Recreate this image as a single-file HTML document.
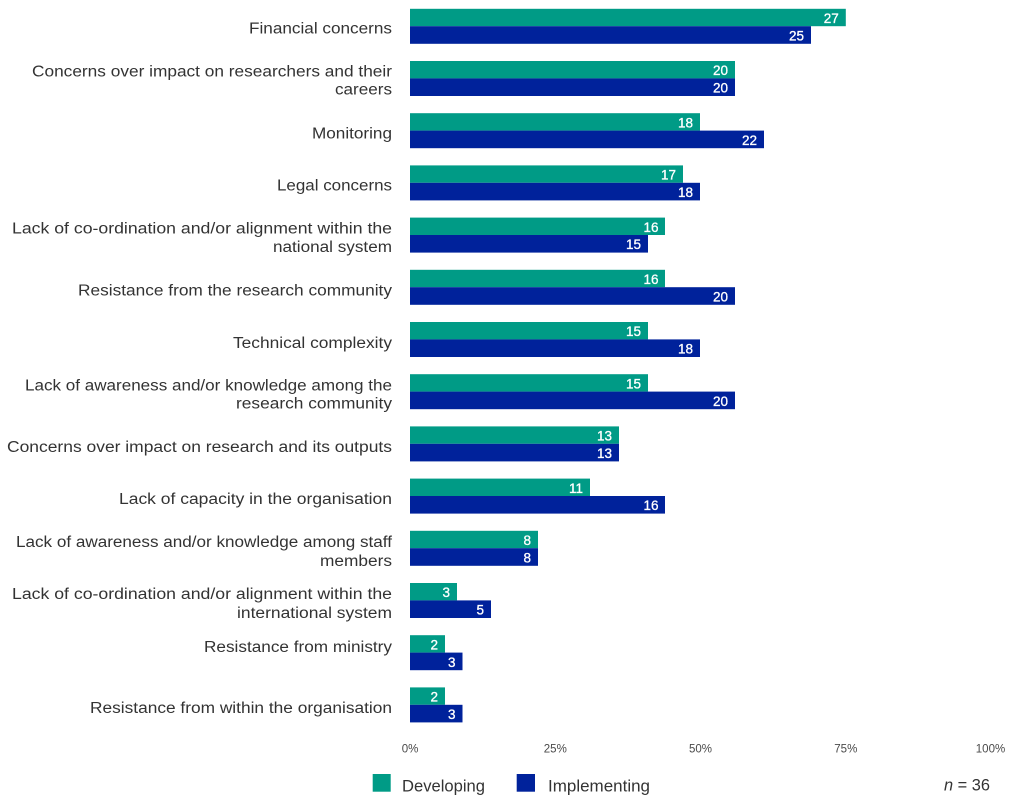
<!DOCTYPE html>
<html>
<head>
<meta charset="utf-8">
<style>
  html, body { margin: 0; padding: 0; background: #ffffff; }
  body { width: 1024px; height: 809px; overflow: hidden; }
  svg { display: block; }
  .cat { font-family: "Liberation Sans", sans-serif; font-size: 15.5px; fill: #333333; }
  .val { font-family: "Liberation Sans", sans-serif; font-size: 13.5px; fill: #ffffff; stroke: #ffffff; stroke-width: 0.3px; }
  .tick { font-family: "Liberation Sans", sans-serif; font-size: 11.5px; fill: #4a4a4a; }
  .leg { font-family: "Liberation Sans", sans-serif; font-size: 16.5px; fill: #333333; }
</style>
</head>
<body>
<svg width="1024" height="809" viewBox="0 0 1024 809" xmlns="http://www.w3.org/2000/svg">
  <!-- Category labels -->
  <text class="cat" x="249" y="33.5" textLength="143" lengthAdjust="spacingAndGlyphs">Financial concerns</text>
  <text class="cat" x="32" y="76.5" textLength="360" lengthAdjust="spacingAndGlyphs">Concerns over impact on researchers and their</text>
  <text class="cat" x="335" y="94.5" textLength="57" lengthAdjust="spacingAndGlyphs">careers</text>
  <text class="cat" x="312" y="138.5" textLength="80" lengthAdjust="spacingAndGlyphs">Monitoring</text>
  <text class="cat" x="277" y="190.5" textLength="115" lengthAdjust="spacingAndGlyphs">Legal concerns</text>
  <text class="cat" x="12" y="233.5" textLength="380" lengthAdjust="spacingAndGlyphs">Lack of co-ordination and/or alignment within the</text>
  <text class="cat" x="273" y="252" textLength="119" lengthAdjust="spacingAndGlyphs">national system</text>
  <text class="cat" x="78" y="295.5" textLength="314" lengthAdjust="spacingAndGlyphs">Resistance from the research community</text>
  <text class="cat" x="233" y="348" textLength="159" lengthAdjust="spacingAndGlyphs">Technical complexity</text>
  <text class="cat" x="25" y="390.5" textLength="367" lengthAdjust="spacingAndGlyphs">Lack of awareness and/or knowledge among the</text>
  <text class="cat" x="236" y="408.5" textLength="156" lengthAdjust="spacingAndGlyphs">research community</text>
  <text class="cat" x="7" y="452" textLength="385" lengthAdjust="spacingAndGlyphs">Concerns over impact on research and its outputs</text>
  <text class="cat" x="119" y="504" textLength="273" lengthAdjust="spacingAndGlyphs">Lack of capacity in the organisation</text>
  <text class="cat" x="16" y="547" textLength="376" lengthAdjust="spacingAndGlyphs">Lack of awareness and/or knowledge among staff</text>
  <text class="cat" x="320" y="566" textLength="72" lengthAdjust="spacingAndGlyphs">members</text>
  <text class="cat" x="12" y="599" textLength="380" lengthAdjust="spacingAndGlyphs">Lack of co-ordination and/or alignment within the</text>
  <text class="cat" x="237" y="618" textLength="155" lengthAdjust="spacingAndGlyphs">international system</text>
  <text class="cat" x="204" y="652" textLength="188" lengthAdjust="spacingAndGlyphs">Resistance from ministry</text>
  <text class="cat" x="90" y="713" textLength="302" lengthAdjust="spacingAndGlyphs">Resistance from within the organisation</text>

  <g>
    <!-- 1: 27, 25 -->
    <rect x="410" y="8.8" width="435.8" height="17.4" fill="#009b86"/>
    <rect x="410" y="26.2" width="401" height="17.6" fill="#00229b"/>
    <text class="val" x="838.8" y="23" text-anchor="end">27</text>
    <text class="val" x="804" y="40.4" text-anchor="end">25</text>
    <!-- 2: 20, 20 -->
    <rect x="410" y="61.0" width="325" height="17.4" fill="#009b86"/>
    <rect x="410" y="78.4" width="325" height="17.6" fill="#00229b"/>
    <text class="val" x="728" y="75.2" text-anchor="end">20</text>
    <text class="val" x="728" y="92.6" text-anchor="end">20</text>
    <!-- 3: 18, 22 -->
    <rect x="410" y="113.2" width="290" height="17.4" fill="#009b86"/>
    <rect x="410" y="130.6" width="354" height="17.6" fill="#00229b"/>
    <text class="val" x="693" y="127.4" text-anchor="end">18</text>
    <text class="val" x="757" y="144.8" text-anchor="end">22</text>
    <!-- 4: 17, 18 -->
    <rect x="410" y="165.4" width="273" height="17.4" fill="#009b86"/>
    <rect x="410" y="182.8" width="290" height="17.6" fill="#00229b"/>
    <text class="val" x="676" y="179.6" text-anchor="end">17</text>
    <text class="val" x="693" y="197" text-anchor="end">18</text>
    <!-- 5: 16, 15 -->
    <rect x="410" y="217.6" width="255" height="17.4" fill="#009b86"/>
    <rect x="410" y="235.0" width="238" height="17.6" fill="#00229b"/>
    <text class="val" x="658.5" y="231.8" text-anchor="end">16</text>
    <text class="val" x="641" y="249.2" text-anchor="end">15</text>
    <!-- 6: 16, 20 -->
    <rect x="410" y="269.8" width="255" height="17.4" fill="#009b86"/>
    <rect x="410" y="287.2" width="325" height="17.6" fill="#00229b"/>
    <text class="val" x="658.5" y="284" text-anchor="end">16</text>
    <text class="val" x="728" y="301.4" text-anchor="end">20</text>
    <!-- 7: 15, 18 -->
    <rect x="410" y="322.0" width="238" height="17.4" fill="#009b86"/>
    <rect x="410" y="339.4" width="290" height="17.6" fill="#00229b"/>
    <text class="val" x="641" y="336.2" text-anchor="end">15</text>
    <text class="val" x="693" y="353.6" text-anchor="end">18</text>
    <!-- 8: 15, 20 -->
    <rect x="410" y="374.2" width="238" height="17.4" fill="#009b86"/>
    <rect x="410" y="391.6" width="325" height="17.6" fill="#00229b"/>
    <text class="val" x="641" y="388.4" text-anchor="end">15</text>
    <text class="val" x="728" y="405.8" text-anchor="end">20</text>
    <!-- 9: 13, 13 -->
    <rect x="410" y="426.4" width="209" height="17.4" fill="#009b86"/>
    <rect x="410" y="443.8" width="209" height="17.6" fill="#00229b"/>
    <text class="val" x="612" y="440.6" text-anchor="end">13</text>
    <text class="val" x="612" y="458" text-anchor="end">13</text>
    <!-- 10: 11, 16 -->
    <rect x="410" y="478.6" width="180" height="17.4" fill="#009b86"/>
    <rect x="410" y="496.0" width="255" height="17.6" fill="#00229b"/>
    <text class="val" x="583" y="492.8" text-anchor="end">11</text>
    <text class="val" x="658.5" y="510.2" text-anchor="end">16</text>
    <!-- 11: 8, 8 -->
    <rect x="410" y="530.8" width="128" height="17.4" fill="#009b86"/>
    <rect x="410" y="548.2" width="128" height="17.6" fill="#00229b"/>
    <text class="val" x="531" y="545" text-anchor="end">8</text>
    <text class="val" x="531" y="562.4" text-anchor="end">8</text>
    <!-- 12: 3, 5 -->
    <rect x="410" y="583.0" width="47" height="17.4" fill="#009b86"/>
    <rect x="410" y="600.4" width="81" height="17.6" fill="#00229b"/>
    <text class="val" x="450" y="597.2" text-anchor="end">3</text>
    <text class="val" x="484" y="614.6" text-anchor="end">5</text>
    <!-- 13: 2, 3 -->
    <rect x="410" y="635.2" width="35" height="17.4" fill="#009b86"/>
    <rect x="410" y="652.6" width="52.5" height="17.6" fill="#00229b"/>
    <text class="val" x="438" y="649.4" text-anchor="end">2</text>
    <text class="val" x="455.5" y="666.8" text-anchor="end">3</text>
    <!-- 14: 2, 3 -->
    <rect x="410" y="687.4" width="35" height="17.4" fill="#009b86"/>
    <rect x="410" y="704.8" width="52.5" height="17.6" fill="#00229b"/>
    <text class="val" x="438" y="701.6" text-anchor="end">2</text>
    <text class="val" x="455.5" y="719" text-anchor="end">3</text>
  </g>

  <!-- X-axis tick labels -->
  <text class="tick" x="410" y="752.5" text-anchor="middle">0%</text>
  <text class="tick" x="555.3" y="752.5" text-anchor="middle">25%</text>
  <text class="tick" x="700.5" y="752.5" text-anchor="middle">50%</text>
  <text class="tick" x="845.8" y="752.5" text-anchor="middle">75%</text>
  <text class="tick" x="990.5" y="752.5" text-anchor="middle">100%</text>

  <!-- Legend -->
  <rect x="372.7" y="774" width="18" height="17.7" fill="#009b86"/>
  <text class="leg" x="402" y="791.5" textLength="83" lengthAdjust="spacingAndGlyphs">Developing</text>
  <rect x="516.7" y="774" width="18.3" height="17.7" fill="#00229b"/>
  <text class="leg" x="548" y="791.5" textLength="102" lengthAdjust="spacingAndGlyphs">Implementing</text>

  <text class="leg" x="944" y="790.5" textLength="46" lengthAdjust="spacingAndGlyphs"><tspan font-style="italic">n</tspan> = 36</text>
</svg>
</body>
</html>
